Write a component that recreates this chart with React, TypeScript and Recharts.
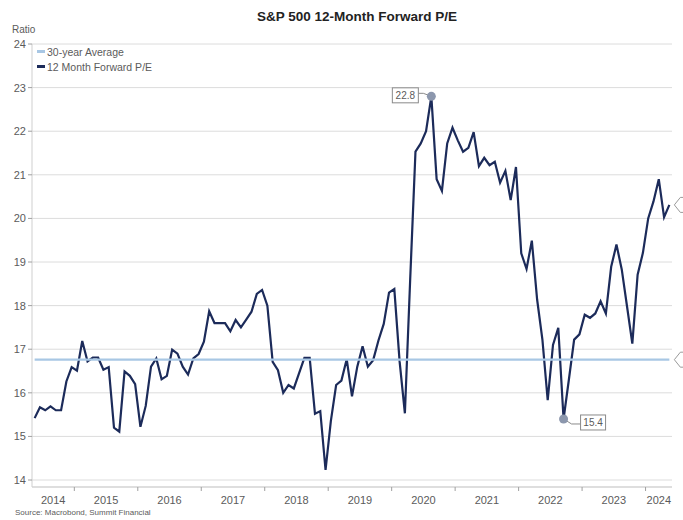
import React from "react";
import {
  LineChart,
  Line,
  XAxis,
  YAxis,
  CartesianGrid,
  ReferenceDot,
  Legend,
} from "recharts";

// months counted from Jan 2014; first reading is May 2014
const START_MONTH = 4;

const peValues = [
  15.42, 15.67, 15.6, 15.69, 15.6, 15.6, 16.26, 16.59, 16.51, 17.19, 16.72, 16.81,
  16.81, 16.53, 16.59, 15.2, 15.11, 16.49, 16.39, 16.2, 15.22, 15.7, 16.6, 16.79,
  16.31, 16.39, 16.99, 16.9, 16.6, 16.42, 16.79, 16.89, 17.17, 17.87, 17.6, 17.6,
  17.6, 17.41, 17.67, 17.5, 17.68, 17.86, 18.27, 18.36, 18.0, 16.71, 16.52, 16.0,
  16.18, 16.1, 16.45, 16.8, 16.8, 15.52, 15.58, 14.23, 15.35, 16.18, 16.28, 16.77,
  15.92, 16.6, 17.07, 16.6, 16.75, 17.2, 17.58, 18.3, 18.38, 16.72, 15.53, 18.6,
  21.53, 21.72, 22.0, 22.8, 20.9, 20.63, 21.72, 22.08, 21.79, 21.53, 21.62, 21.98,
  21.2, 21.39, 21.22, 21.3, 20.82, 21.09, 20.42, 21.18, 19.2, 18.84, 19.49, 18.14,
  17.22, 15.83, 17.1, 17.49, 15.4, 16.3, 17.22, 17.34, 17.79, 17.72, 17.82, 18.1,
  17.82, 18.89, 19.4, 18.83, 17.98, 17.13, 18.71, 19.21, 20.0, 20.39, 20.9, 20.03,
  20.31,
];

const avgPE = 16.76;

const years = ["2014", "2015", "2016", "2017", "2018", "2019", "2020", "2021", "2022", "2023", "2024"];
const yTicks = [14, 15, 16, 17, 18, 19, 20, 21, 22, 23, 24];

const NAVY = "#1c2b5a";
const LIGHT_BLUE = "#a8c7e4";
const GRID = "#dcdcdc";
const AXIS = "#cfcfcf";
const TEXT = "#5b5b5b";
const SANS = "'Liberation Sans', Arial, sans-serif";

const data = peValues.map((pe, i) => ({ t: START_MONTH + i + 0.5, pe, avg: avgPE }));

const X_MIN = START_MONTH;
const X_MAX = START_MONTH + peValues.length;

// tick marks on year boundaries, labels centred on the visible part of each year
const boundaryTicks = years.slice(1).map((_, k) => (k + 1) * 12);
const labelTicks = years.map(
  (_, k) => (Math.max(X_MIN, k * 12) + Math.min(X_MAX, (k + 1) * 12)) / 2
);
const xTicks = [...boundaryTicks, ...labelTicks].sort((a, b) => a - b);

const maxIdx = peValues.indexOf(Math.max(...peValues));
const minIdx = peValues.lastIndexOf(Math.min(...peValues.slice(72)));
const last = data[data.length - 1];

function YearTick(props: any) {
  const { x, y, payload } = props;
  const v = payload.value;
  if (v % 12 === 0) {
    return <line x1={x} x2={x} y1={y} y2={y + 4} stroke="#a0a0a0" />;
  }
  return (
    <text x={x} y={y + 17} textAnchor="middle" fill={TEXT} fontSize={11} fontFamily={SANS}>
      {years[Math.floor(v / 12)]}
    </text>
  );
}

function PeakCallout(props: any) {
  const { cx, cy } = props;
  const bx = cx - 39;
  return (
    <g>
      <polyline points={`${cx},${cy} ${cx - 8},${cy - 3} ${bx + 26},${cy - 3}`} fill="none" stroke="#8a8a8a" />
      <circle cx={cx} cy={cy} r={4.5} fill="#8c97ad" />
      <rect x={bx} y={cy - 8.5} width={26} height={15} fill="#fff" stroke="#8a8a8a" />
      <text x={bx + 13} y={cy + 3} textAnchor="middle" fontSize={10} fill={TEXT} fontFamily={SANS}>
        {peValues[maxIdx].toFixed(1)}
      </text>
    </g>
  );
}

function TroughCallout(props: any) {
  const { cx, cy } = props;
  const bx = cx + 17;
  return (
    <g>
      <polyline points={`${cx},${cy} ${cx + 8},${cy + 5} ${bx},${cy + 5}`} fill="none" stroke="#8a8a8a" />
      <circle cx={cx} cy={cy} r={4.5} fill="#8c97ad" />
      <rect x={bx} y={cy - 4} width={25} height={15} fill="#fff" stroke="#8a8a8a" />
      <text x={bx + 12.5} y={cy + 7.5} textAnchor="middle" fontSize={10} fill={TEXT} fontFamily={SANS}>
        {peValues[minIdx].toFixed(1)}
      </text>
    </g>
  );
}

function EdgeTag(label: string) {
  return (props: any) => {
    const { cx, cy } = props;
    const x0 = cx + 5;
    return (
      <g>
        <path
          d={`M${x0},${cy} L${x0 + 6},${cy - 7.5} L${x0 + 40},${cy - 7.5} L${x0 + 40},${cy + 7.5} L${x0 + 6},${cy + 7.5} Z`}
          fill="#fff"
          stroke="#9a9a9a"
        />
        <text x={x0 + 9} y={cy + 4} fontSize={10} fill={TEXT} fontFamily={SANS}>
          {label}
        </text>
      </g>
    );
  };
}

function LegendBox(props: any) {
  const items = [...(props.payload || [])].reverse();
  return (
    <div style={{ fontFamily: SANS, fontSize: 10.5, color: TEXT }}>
      {items.map((it: any) => (
        <div key={it.value} style={{ display: "flex", alignItems: "center", height: 15 }}>
          <span style={{ display: "inline-block", width: 8, height: 3, background: it.color, marginRight: 2 }} />
          {it.value}
        </div>
      ))}
    </div>
  );
}

export default function App() {
  return (
    <div style={{ position: "absolute", left: 0, top: 0, width: 683, height: 520, background: "#fff" }}>
      <div
        style={{
          position: "absolute",
          left: 357,
          top: 8,
          transform: "translateX(-50%)",
          fontFamily: SANS,
          fontWeight: "bold",
          fontSize: 13.5,
          color: "#222",
          whiteSpace: "nowrap",
          lineHeight: "18px",
        }}
      >
        S&amp;P 500 12-Month Forward P/E
      </div>
      <div style={{ position: "absolute", left: 12, top: 23, fontFamily: SANS, fontSize: 10, color: TEXT, lineHeight: "14px" }}>
        Ratio
      </div>
      <LineChart width={683} height={520} data={data} margin={{ top: 44, right: 11, bottom: 0, left: 0 }}>
        <CartesianGrid vertical={false} stroke={GRID} />
        <XAxis
          dataKey="t"
          type="number"
          domain={[X_MIN, X_MAX]}
          ticks={xTicks}
          interval={0}
          tick={<YearTick />}
          tickLine={false}
          tickSize={0}
          tickMargin={0}
          height={33}
          axisLine={{ stroke: AXIS }}
          allowDataOverflow
        />
        <YAxis
          type="number"
          domain={[13.84, 24]}
          ticks={yTicks}
          interval={0}
          width={32}
          tickSize={4}
          tickMargin={2}
          tick={{ fill: TEXT, fontSize: 11, fontFamily: SANS }}
          tickLine={{ stroke: "#a0a0a0" }}
          axisLine={{ stroke: AXIS }}
          allowDataOverflow
        />
        <Legend
          layout="vertical"
          align="center"
          verticalAlign="middle"
          wrapperStyle={{ left: 37, top: 44, width: "auto", height: "auto" }}
          content={<LegendBox />}
        />
        <Line
          dataKey="pe"
          name="12 Month Forward P/E"
          stroke={NAVY}
          strokeWidth={2.2}
          dot={false}
          activeDot={false}
          isAnimationActive={false}
        />
        <Line
          dataKey="avg"
          name="30-year Average"
          stroke={LIGHT_BLUE}
          strokeWidth={2.2}
          dot={false}
          activeDot={false}
          isAnimationActive={false}
        />
        <ReferenceDot x={data[maxIdx].t} y={peValues[maxIdx]} r={0} shape={<PeakCallout />} />
        <ReferenceDot x={data[minIdx].t} y={peValues[minIdx]} r={0} shape={<TroughCallout />} />
        <ReferenceDot x={last.t} y={last.pe} r={0} shape={EdgeTag(last.pe.toFixed(1))} />
        <ReferenceDot x={last.t} y={avgPE} r={0} shape={EdgeTag(avgPE.toFixed(1))} />
      </LineChart>
      <div style={{ position: "absolute", left: 15, top: 507, fontFamily: SANS, fontSize: 8, color: TEXT, lineHeight: "11px" }}>
        Source: Macrobond, Summit Financial
      </div>
    </div>
  );
}
